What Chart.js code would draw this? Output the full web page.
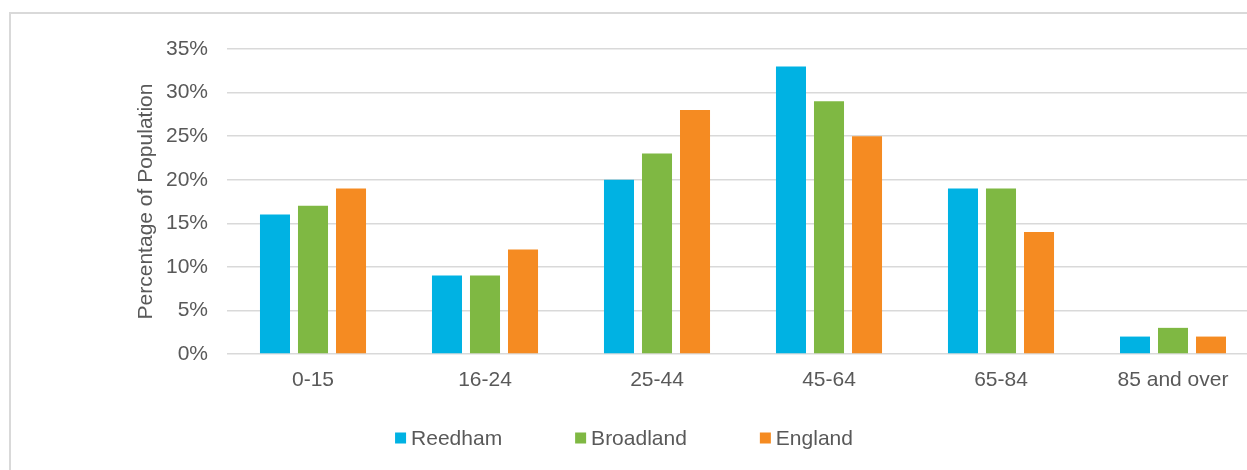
<!DOCTYPE html>
<html>
<head>
<meta charset="utf-8">
<script src="https://cdn.jsdelivr.net/npm/chart.js@4.4.1/dist/chart.umd.min.js"></script>
<style>
  html, body { margin: 0; padding: 0; background: #ffffff; overflow: hidden; }
  body { width: 1247px; height: 470px; position: relative; }
  #frame {
    position: absolute; left: 9px; top: 12px; width: 1320px; height: 520px;
    border: 2px solid #d9d9d9; box-sizing: border-box;
  }
  #wrap { position: absolute; left: 0; top: 0; width: 1270px; height: 470px; }
</style>
</head>
<body>
<div id="frame"></div>
<div id="wrap"><canvas id="chart" width="1270" height="470"></canvas></div>
<script>
// Age bands and share of population (%) in each area
const ageBands = ['0-15', '16-24', '25-44', '45-64', '65-84', '85 and over'];
const reedham   = [16, 9, 20, 33, 19, 2];
const broadland = [17, 9, 23, 29, 19, 3];
const england   = [19, 12, 28, 25, 14, 2];
const seriesNames = ['Reedham', 'Broadland', 'England'];
const seriesColors = ['#00B2E3', '#7FB843', '#F58B22'];
const yTicks = [0, 5, 10, 15, 20, 25, 30, 35];

const FONT = "'Liberation Sans', Arial, sans-serif";
const TEXT = '#595959';

// Legend drawn under the plot, centred on the frame
const bottomLegend = {
  id: 'bottomLegend',
  afterDraw(chart) {
    const ctx = chart.ctx;
    ctx.save();
    ctx.font = '21px ' + FONT;
    const box = 11, gapText = 5, gapItem = 73;
    const items = chart.data.datasets.map(ds => ({
      label: ds.label, color: ds.backgroundColor,
      w: box + gapText + ctx.measureText(ds.label).width
    }));
    const total = items.reduce((s, it) => s + it.w, 0) + gapItem * (items.length - 1);
    let x = 624 - total / 2;
    const cy = 438;
    items.forEach(it => {
      ctx.fillStyle = it.color;
      ctx.fillRect(x, cy - box / 2, box, box);
      ctx.fillStyle = TEXT;
      ctx.textBaseline = 'middle';
      ctx.textAlign = 'left';
      ctx.fillText(it.label, x + box + gapText, cy + 1);
      x += it.w + gapItem;
    });
    ctx.restore();
  }
};

const datasets = [reedham, broadland, england].map((vals, i) => ({
  label: seriesNames[i],
  data: vals,
  backgroundColor: seriesColors[i],
  borderWidth: 0,
  categoryPercentage: 0.663,
  barPercentage: 0.79
}));

new Chart(document.getElementById('chart'), {
  type: 'bar',
  data: { labels: ageBands, datasets },
  plugins: [bottomLegend],
  options: {
    responsive: false,
    animation: false,
    layout: { padding: { left: 120, right: 11, top: 49, bottom: 0 } },
    plugins: {
      legend: { display: false },
      tooltip: { enabled: false }
    },
    scales: {
      x: {
        grid: { display: false, drawTicks: false },
        border: { display: false },
        ticks: { color: TEXT, font: { family: FONT, size: 21 }, padding: 14, maxRotation: 0 },
        afterFit(scale) { scale.height = 116; }
      },
      y: {
        min: 0, max: 35,
        afterBuildTicks(scale) { scale.ticks = yTicks.map(v => ({ value: v })); },
        grid: { color: '#d9d9d9', lineWidth: 1.5, drawTicks: false },
        border: { display: false },
        ticks: {
          color: TEXT, font: { family: FONT, size: 21 }, padding: 19,
          callback: v => v + '%'
        },
        title: {
          display: true, text: 'Percentage of Population', color: TEXT,
          font: { family: FONT, size: 21 }, padding: { top: 14, bottom: 0 }
        },
        afterFit(scale) { scale.width = 107; }
      }
    }
  }
});
</script>
</body>
</html>
